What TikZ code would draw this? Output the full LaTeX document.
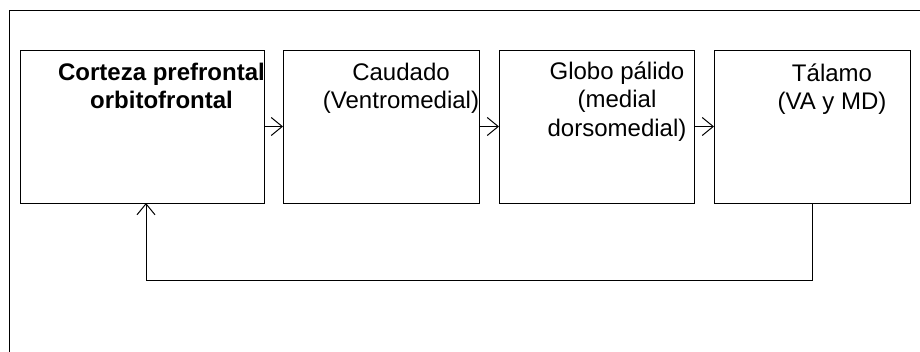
\documentclass[tikz,border=0pt]{standalone}
\usepackage{fontspec}
\setmainfont{Liberation Sans}
\usetikzlibrary{arrows.meta}
\tikzset{
  blk/.style={draw, line width=1pt, minimum height=153pt, inner sep=0pt, outer sep=0pt},
  lbl/.style={anchor=base, align=center, inner sep=0pt, font=\fontsize{24}{28.5}\selectfont},
  conn/.style={line width=1pt, -{Straight Barb[length=11pt,width=18pt,line width=1pt]}},
  frame/.style={line width=1.3pt}
}
\begin{document}
\begin{tikzpicture}[x=1pt,y=-1pt]
\useasboundingbox (0,0) rectangle (920,351);
\draw[frame] (921,10.5) -- (9.5,10.5) -- (9.5,352);
\node[blk, minimum width=244pt] (b1) at (142,126.5) {};
\node[blk, minimum width=196pt] (b2) at (381,126.5) {};
\node[blk, minimum width=195pt] (b3) at (596.5,126.5) {};
\node[blk, minimum width=196pt] (b4) at (812,126.5) {};
\node[lbl, font=\fontsize{24}{28.5}\selectfont\bfseries] (t1) at (161.5,108.5) {Corteza prefrontal\\orbitofrontal};
\node[lbl] (t2) at (401,108.5) {Caudado\\(Ventromedial)};
\node[lbl] (t3) at (617,136) {Globo pálido\\(medial\\dorsomedial)};
\node[lbl] (t4) at (832,109.5) {Tálamo\\(VA y MD)};
\draw[conn] (b1.east) -- (b2.west);
\draw[conn] (b2.east) -- (b3.west);
\draw[conn] (b3.east) -- (b4.west);
\coordinate (c1) at (812,280);
\coordinate (c2) at (146,280);
\draw[conn] (b4.south) -- (c1) -- (c2) -- (c2 |- b1.south);
\end{tikzpicture}
\end{document}
